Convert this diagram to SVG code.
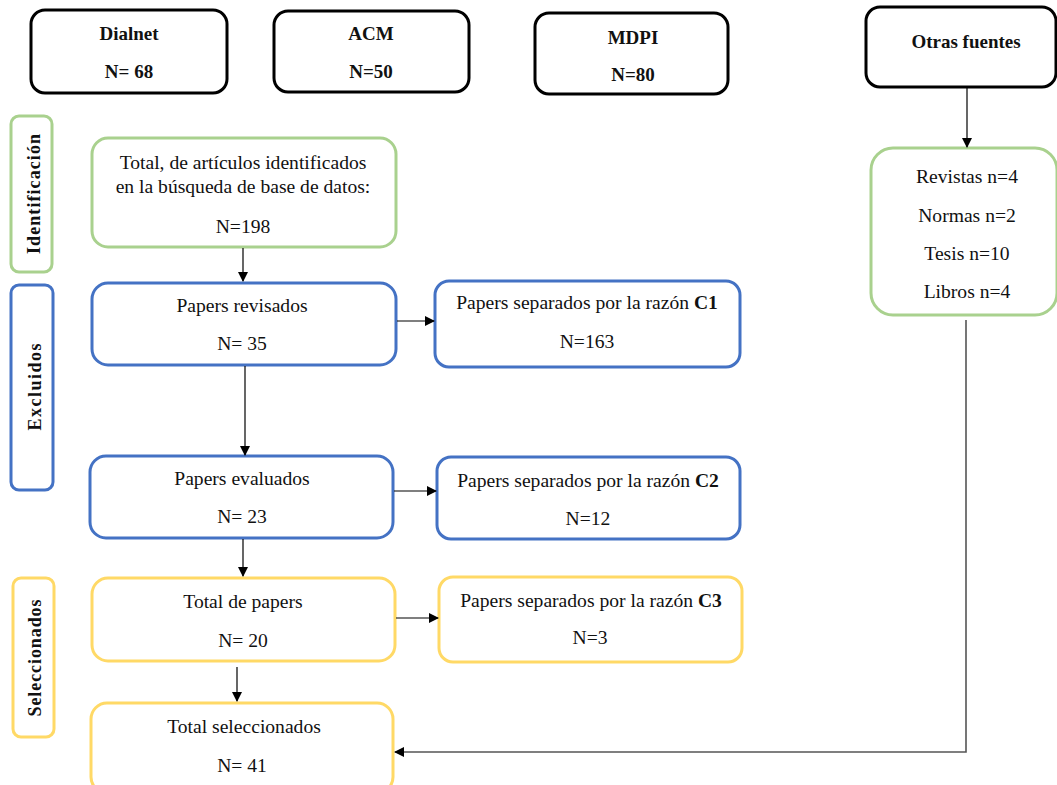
<svg xmlns="http://www.w3.org/2000/svg" width="1057" height="785" viewBox="0 0 1057 785">
<style>
.box{fill:#fff;stroke-width:3}
.k{stroke:#000}
.g{stroke:#A9D18E}
.b{stroke:#4472C4}
.y{stroke:#FFD966}
text{font-family:"Liberation Serif","Times New Roman",serif;font-size:19.6px;fill:#111;text-anchor:middle}
.bd{font-weight:bold}
.tb{font-weight:bold;font-size:19px}
.side{font-weight:bold;font-size:18px}
.c{stroke:#000;stroke-width:1.2;fill:none}
.c2{stroke:#555;stroke-width:1.6;fill:none}
</style>
<defs>
<marker id="ah" markerWidth="10" markerHeight="10" refX="9" refY="5" orient="auto" markerUnits="userSpaceOnUse">
<path d="M0,0 L10,5 L0,10 Z" fill="#000"/>
</marker>
</defs>

<g id="dialnet"><rect class="box k" x="31" y="10" width="196" height="83" rx="14"/><text class="tb" x="129" y="40">Dialnet</text><text class="tb" x="129" y="78">N= 68</text></g>
<g id="acm"><rect class="box k" x="274" y="11" width="195" height="81" rx="14"/><text class="tb" x="371" y="40">ACM</text><text class="tb" x="371" y="78">N=50</text></g>
<g id="mdpi"><rect class="box k" x="535" y="13" width="193" height="81" rx="14"/><text class="tb" x="633" y="44">MDPI</text><text class="tb" x="633" y="81">N=80</text></g>
<g id="otras"><rect class="box k" x="866" y="7" width="190" height="80" rx="14"/><text class="tb" x="966" y="48">Otras fuentes</text></g>

<g id="lbl-identificacion"><rect class="box g" x="11" y="116" width="41" height="156" rx="8"/><text class="side" transform="translate(40,194) rotate(-90)" textLength="120" lengthAdjust="spacing">Identificación</text></g>
<g id="lbl-excluidos"><rect class="box b" x="11" y="285" width="42" height="205" rx="8"/><text class="side" transform="translate(41,387) rotate(-90)" textLength="87" lengthAdjust="spacing">Excluidos</text></g>
<g id="lbl-seleccionados"><rect class="box y" x="13" y="578" width="41" height="159" rx="8"/><text class="side" transform="translate(41,658) rotate(-90)" textLength="117" lengthAdjust="spacing">Seleccionados</text></g>

<g id="identificados"><rect class="box g" x="92" y="138" width="304" height="109" rx="16"/><text x="243" y="169">Total, de artículos identificados</text><text x="243" y="193">en la búsqueda de base de datos:</text><text x="243" y="233">N=198</text></g>
<g id="revisados"><rect class="box b" x="92" y="283" width="304" height="82" rx="16"/><text x="242" y="312">Papers revisados</text><text x="242" y="350">N= 35</text></g>
<g id="evaluados"><rect class="box b" x="90" y="456" width="303" height="82" rx="16"/><text x="242" y="485">Papers evaluados</text><text x="242" y="523">N= 23</text></g>
<g id="totalpapers"><rect class="box y" x="92" y="578" width="303" height="83" rx="16"/><text x="243" y="608">Total de papers</text><text x="243" y="647">N= 20</text></g>
<g id="seleccionados"><rect class="box y" x="91" y="703" width="302" height="90" rx="16"/><text x="244" y="733">Total seleccionados</text><text x="242" y="772">N= 41</text></g>

<g id="c1"><rect class="box b" x="435" y="281" width="305" height="86" rx="14"/><text x="587" y="309">Papers separados por la razón <tspan class="bd">C1</tspan></text><text x="587" y="348">N=163</text></g>
<g id="c2"><rect class="box b" x="437" y="457" width="303" height="82" rx="14"/><text x="588" y="487">Papers separados por la razón <tspan class="bd">C2</tspan></text><text x="588" y="525">N=12</text></g>
<g id="c3"><rect class="box y" x="439" y="577" width="303" height="85" rx="14"/><text x="591" y="607">Papers separados por la razón <tspan class="bd">C3</tspan></text><text x="590" y="644">N=3</text></g>

<g id="otras-detalle"><rect class="box g" x="871" y="148" width="186" height="167" rx="22"/><text x="967" y="183">Revistas n=4</text><text x="967" y="222">Normas n=2</text><text x="967" y="260">Tesis n=10</text><text x="967" y="298">Libros n=4</text></g>

<g id="connectors">
<line class="c" x1="243" y1="248" x2="243" y2="281" marker-end="url(#ah)"/>
<line class="c" x1="245" y1="366" x2="245" y2="455" marker-end="url(#ah)"/>
<line class="c" x1="243" y1="539" x2="243" y2="576" marker-end="url(#ah)"/>
<line class="c" x1="237" y1="667" x2="237" y2="701" marker-end="url(#ah)"/>
<line class="c" x1="397" y1="321" x2="434" y2="321" marker-end="url(#ah)"/>
<line class="c" x1="394" y1="491" x2="436" y2="491" marker-end="url(#ah)"/>
<line class="c" x1="396" y1="618" x2="438" y2="618" marker-end="url(#ah)"/>
<line class="c" x1="967" y1="88" x2="967" y2="147" marker-end="url(#ah)"/>
<polyline class="c2" points="966,320 966,752 395,752" marker-end="url(#ah)"/>
</g>
</svg>
